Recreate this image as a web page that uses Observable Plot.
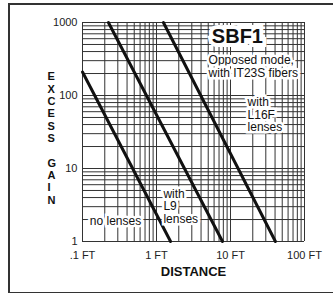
<!DOCTYPE html>
<html>
<head>
<meta charset="utf-8">
<script src="https://cdn.jsdelivr.net/npm/d3@7"></script>
<script src="https://cdn.jsdelivr.net/npm/@observablehq/plot@0.6"></script>
<style>
  html, body { margin: 0; padding: 0; background: #fff; }
  #wrap { position: relative; width: 333px; height: 293px; overflow: hidden; }
  #frame { position: absolute; left: 8px; top: 3px; width: 340px; height: 287px;
           border-left: 2px solid #333; border-top: 2px solid #333; border-bottom: 2px solid #333; }
  #chart { position: absolute; left: 0; top: 0; }
</style>
</head>
<body>
<div id="wrap"><div id="frame"></div><div id="chart"></div></div>
<script>
// Series (distance in feet, excess gain)
const noLensDist = [0.1, 1.55];
const noLensGain = [210, 1];
const l9Dist = [0.224, 7.8];
const l9Gain = [1000, 1];
const l16fDist = [1.24, 40.5];
const l16fGain = [1000, 1];

// Tick labels
const xTickValues = [0.1, 1, 10, 100];
const xTickLabels = [".1 FT", "1 FT", "10 FT", "100 FT"];
const yTickValues = [1, 10, 100, 1000];
const yTickLabels = ["1", "10", "100", "1000"];

// Annotations
const noteText = ["SBF1", "Opposed mode,\nwith IT23S fibers", "with\nL16F\nlenses", "with\nL9\nlenses", "no lenses"];
const noteDist = [12.4, 5.05, 17.0, 1.24, 0.279];
const noteGain = [640, 250, 55, 3.05, 1.9];
const noteAnchor = ["middle", "start", "start", "start", "middle"];

const curves = [
  ...noLensDist.map((d, i) => ({series: "no lenses", d, g: noLensGain[i]})),
  ...l9Dist.map((d, i) => ({series: "L9", d, g: l9Gain[i]})),
  ...l16fDist.map((d, i) => ({series: "L16F", d, g: l16fGain[i]}))
];
const notes = noteText.map((t, i) => ({t, d: noteDist[i], g: noteGain[i], a: noteAnchor[i]}));
const xGrid = d3.scaleLog().domain([0.1, 100]).ticks(30);
const yGrid = d3.scaleLog().domain([1, 1000]).ticks(30);

const font = "Liberation Sans, Arial, Helvetica, sans-serif";
const noteOpts = {x: "d", y: "g", text: "t", fontSize: 12, lineHeight: 1.05,
  fill: "#111", stroke: "white", strokeWidth: 5, strokeLinejoin: "miter"};
const chart = Plot.plot({
  width: 333,
  height: 293,
  marginLeft: 82,
  marginRight: 29,
  marginTop: 22,
  marginBottom: 52,
  style: {background: "transparent", fontFamily: font, color: "#222"},
  x: {type: "log", domain: [0.1, 100]},
  y: {type: "log", domain: [1, 1000]},
  marks: [
    Plot.ruleX(xGrid, {stroke: "#333", strokeWidth: 1}),
    Plot.ruleY(yGrid, {stroke: "#333", strokeWidth: 1}),
    Plot.axisX(xTickValues, {tickSize: 0, tickPadding: 10, fontSize: 11, label: null,
      tickFormat: (d) => xTickLabels[xTickValues.indexOf(d)]}),
    Plot.axisY(yTickValues, {tickSize: 0, tickPadding: 5, fontSize: 11, label: null,
      tickFormat: (d) => yTickLabels[yTickValues.indexOf(d)]}),
    Plot.line(curves, {x: "d", y: "g", z: "series", stroke: "#111", strokeWidth: 3}),
    Plot.text(notes.filter(n => n.t === "SBF1"), {x: "d", y: "g", text: "t", fontSize: 20, fontWeight: "bold",
      fill: "#111", stroke: "white", strokeWidth: 8, strokeLinejoin: "miter"}),
    Plot.text(notes.filter(n => n.t !== "SBF1" && n.a === "start"), {...noteOpts, textAnchor: "start"}),
    Plot.text(notes.filter(n => n.t !== "SBF1" && n.a === "middle"), {...noteOpts, textAnchor: "middle"}),
    Plot.text(["DISTANCE"], {frameAnchor: "bottom", dy: 34, fontSize: 13, fontWeight: "bold", fill: "#111"}),
    Plot.text(["E\nX\nC\nE\nS\nS\n\nG\nA\nI\nN"], {frameAnchor: "left", dx: -35, dy: 6,
      fontSize: 11, fontWeight: "bold", lineHeight: 1.12, fill: "#111"})
  ]
});
document.getElementById("chart").appendChild(chart);
</script>
</body>
</html>
